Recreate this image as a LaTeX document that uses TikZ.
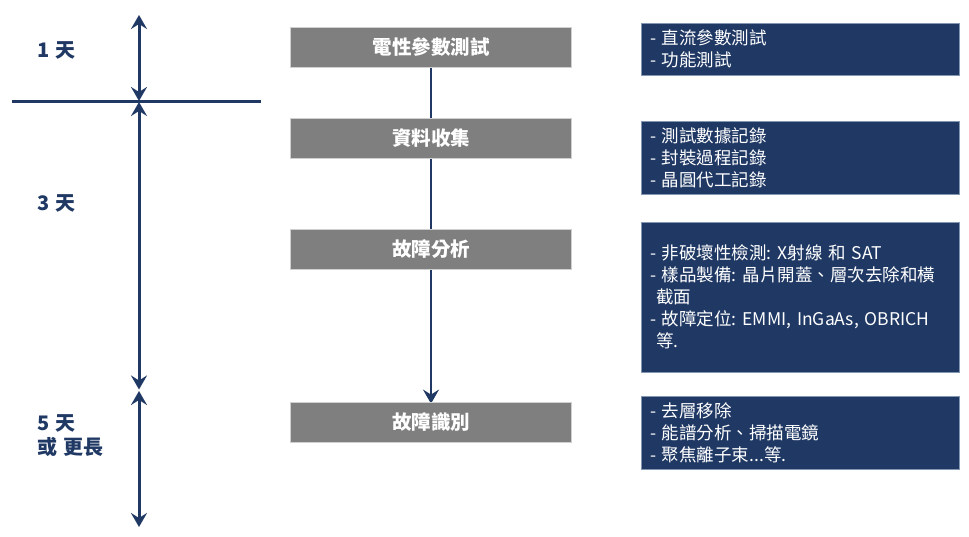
\documentclass[tikz,border=0pt]{standalone}
\usepackage{fontspec}
\setmainfont{Noto Sans CJK TC}
\usetikzlibrary{arrows.meta,backgrounds}
\definecolor{navy}{HTML}{1F3864}
\definecolor{boxgray}{HTML}{7F7F7F}
\definecolor{edgegray}{HTML}{D0D0D0}
\definecolor{edgeblue}{HTML}{8497B0}
\frenchspacing
\newcommand{\dgap}{\hspace*{6pt}}
\begin{document}
\begin{tikzpicture}[x=1pt,y=-1pt,
  stagebox/.style={fill=boxgray, draw=edgegray, line width=0.8pt,
    minimum width=281pt, minimum height=40pt, inner sep=0pt,
    text=white, font=\fontsize{19.5}{22}\selectfont\bfseries},
  notebox/.style={fill=navy, draw=edgeblue, line width=0.8pt,
    text width=300pt, inner xsep=9pt, inner ysep=0pt, align=left,
    text=white, font=\fontsize{17.5}{22}\selectfont},
  daylabel/.style={text=navy, font=\fontsize{20}{24}\selectfont\bfseries,
    anchor=west, align=left, inner sep=0pt},
  timeline/.style={navy, line width=3pt, {Stealth[length=14pt,width=16pt,inset=5pt]}-{Stealth[length=14pt,width=16pt,inset=5pt]}},
  flow/.style={navy, line width=2.5pt, -{Stealth[length=14pt,width=16pt,inset=5pt]}}
]
\useasboundingbox (0,0) rectangle (969,537);

% stage boxes
\node[stagebox] (s1) at (431,47.5) {電性參數測試};
\node[stagebox] (s2) at (431,138) {資料收集};
\node[stagebox] (s3) at (431,249.5) {故障分析};
\node[stagebox] (s4) at (431,422) {故障識別};

% note boxes
\node[notebox, minimum height=52pt] (n1) at (800,49)
  {- 直流參數測試\\- 功能測試};
\node[notebox, minimum height=73pt] (n2) at (800,157.5)
  {- 測試數據記錄\\- 封裝過程記錄\\- 晶圓代工記錄};
\node[notebox, minimum height=150pt] (n3) at (800,297)
  {- 非破壞性檢測: X射線 和 SAT\\- 樣品製備: 晶片開蓋、層次去除和橫\\\hspace*{6pt}截面\\- 故障定位: EMMI, InGaAs, OBRICH\\\hspace*{6pt}等.};
\node[notebox, minimum height=73pt] (n4) at (800,432.5)
  {- 去層移除\\- 能譜分析、掃描電鏡\\- 聚焦離子束...等.};

% day labels
\node[daylabel] (d1) at (37,50) {1\dgap 天};
\node[daylabel] (d3) at (37,203) {3\dgap 天};
\node[daylabel] (d5) at (37,436) {5\dgap 天\\或\dgap 更長};

% timeline
\coordinate (t1) at (139,15);
\coordinate (t2a) at (139,101);
\coordinate (t2b) at (139,102);
\coordinate (t3a) at (139,389.5);
\coordinate (t3b) at (139,391);
\coordinate (t4) at (139,527);
\coordinate (hl) at (12,101.5);
\coordinate (hr) at (261,101.5);
\draw[timeline] (t1) -- (t2a);
\draw[timeline] (t2b) -- (t3a);
\draw[timeline] (t3b) -- (t4);
\draw[navy, line width=3pt] (hl) -- (hr);

% flow connector behind the boxes
\begin{scope}[on background layer]
  \fill[white] (0,0) rectangle (969,537);
  \draw[flow] (s1.south) -- ([yshift=-2pt]s4.north);
\end{scope}
\end{tikzpicture}
\end{document}
